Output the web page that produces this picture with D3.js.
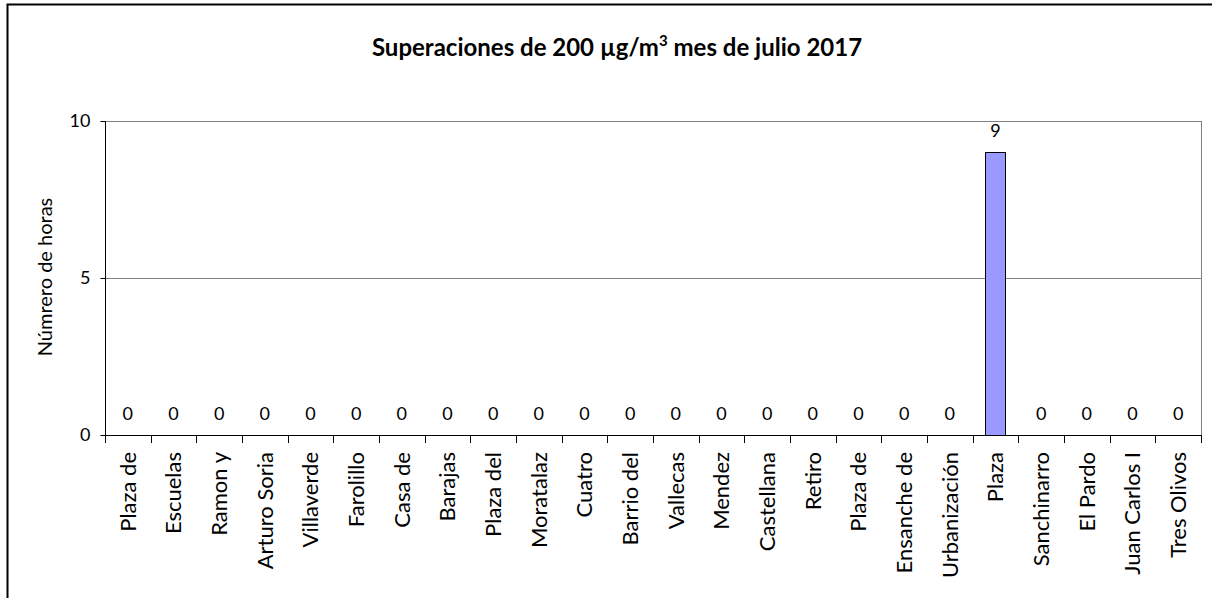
<!DOCTYPE html>
<html>
<head>
<meta charset="utf-8">
<script src="https://cdn.jsdelivr.net/npm/d3@7"></script>
<style>
  body { margin: 0; background: #fff; }
  text { font-family: Lato, "Open Sans", sans-serif; fill: #000; }
</style>
</head>
<body>
<svg id="chart" width="1212" height="598"></svg>
<script>
var stations = ['Plaza de', 'Escuelas', 'Ramon y', 'Arturo Soria', 'Villaverde', 'Farolillo',
    'Casa de', 'Barajas', 'Plaza del', 'Moratalaz', 'Cuatro', 'Barrio del', 'Vallecas',
    'Mendez', 'Castellana', 'Retiro', 'Plaza de', 'Ensanche de', 'Urbanización', 'Plaza',
    'Sanchinarro', 'El Pardo', 'Juan Carlos I', 'Tres Olivos'];
var hours = [0, 0, 0, 0, 0, 0, 0, 0, 0, 0, 0, 0, 0, 0, 0, 0, 0, 0, 0, 9, 0, 0, 0, 0];
var yTicks = [0, 5, 10];

var svg = d3.select('#chart');
var margin = {left: 105, top: 121, right: 1201, bottom: 435};

// outer frame, cut off at the right and bottom like the source
svg.append('rect')
    .attr('x', 7.5).attr('y', 4.5)
    .attr('width', 1220).attr('height', 620)
    .attr('fill', 'none').attr('stroke', '#000').attr('stroke-width', 2);

var idx = stations.map(function (d, i) { return i; });
var x = d3.scaleBand().domain(idx).range([margin.left, margin.right]).paddingInner(0.56).paddingOuter(0.28);
var xb = d3.scaleBand().domain(idx).range([margin.left, margin.right]);
var y = d3.scaleLinear().domain([0, 10]).range([margin.bottom, margin.top]);

// grid lines
svg.append('g').selectAll('line').data(yTicks.filter(function (t) { return t > 0; }))
    .enter().append('line')
    .attr('x1', margin.left).attr('x2', margin.right)
    .attr('y1', function (d) { return Math.round(y(d)) + 0.5; })
    .attr('y2', function (d) { return Math.round(y(d)) + 0.5; })
    .attr('stroke', '#808080');

// right border of plot area
svg.append('line')
    .attr('x1', margin.right + 0.5).attr('x2', margin.right + 0.5)
    .attr('y1', margin.top).attr('y2', margin.bottom)
    .attr('stroke', '#808080');

// bars
svg.append('g').selectAll('rect').data(hours)
    .enter().append('rect')
    .attr('x', function (d, i) { return Math.round(x(i)) + 0.5; })
    .attr('width', Math.round(x.bandwidth()))
    .attr('y', function (d) { return Math.round(y(d)) + 0.5; })
    .attr('height', function (d) { return Math.round(y(0) - y(d)); })
    .attr('fill', '#9999ff')
    .attr('stroke', function (d) { return d > 0 ? '#000' : 'none'; });

// value labels
svg.append('g').selectAll('text').data(hours)
    .enter().append('text')
    .attr('x', function (d, i) { return xb(i) + xb.bandwidth() / 2; })
    .attr('y', function (d) { return y(d) - 15; })
    .attr('text-anchor', 'middle')
    .style('font-size', '18px')
    .text(function (d) { return d; });

// y axis
var yAxis = svg.append('g')
    .attr('transform', 'translate(' + (margin.left + 0.5) + ',0)')
    .call(d3.axisLeft(y).tickValues(yTicks).tickSize(5).tickPadding(10).tickFormat(d3.format('d')));
yAxis.selectAll('path, line').attr('stroke', '#000');
yAxis.select('.domain').attr('d', 'M0,' + margin.top + 'V' + margin.bottom);
yAxis.selectAll('text').style('font-size', '18px').style('font-family', 'Lato, sans-serif');

// x axis with ticks at category boundaries
svg.append('line')
    .attr('x1', margin.left).attr('x2', margin.right + 1)
    .attr('y1', margin.bottom + 0.5).attr('y2', margin.bottom + 0.5)
    .attr('stroke', '#000');
svg.append('g').selectAll('line').data(idx.concat([stations.length]))
    .enter().append('line')
    .attr('x1', function (i) { return Math.round(margin.left + i * xb.step()) + 0.5; })
    .attr('x2', function (i) { return Math.round(margin.left + i * xb.step()) + 0.5; })
    .attr('y1', margin.bottom).attr('y2', margin.bottom + 8)
    .attr('stroke', '#000');

svg.append('g').selectAll('text').data(stations)
    .enter().append('text')
    .attr('transform', function (d, i) {
        return 'translate(' + (xb(i) + xb.bandwidth() / 2) + ',' + (margin.bottom + 17) + ') rotate(-90)';
    })
    .attr('dy', '0.35em')
    .attr('text-anchor', 'end')
    .style('font-size', '22px')
    .text(function (d) { return d; });

// axis title
svg.append('text')
    .attr('transform', 'translate(52,277) rotate(-90)')
    .attr('text-anchor', 'middle')
    .style('font-size', '20px')
    .text('Númrero de horas');

// chart title
var title = svg.append('text')
    .attr('x', 617).attr('y', 56)
    .attr('text-anchor', 'middle')
    .style('font-size', '24px')
    .style('font-weight', 'bold');
title.append('tspan').text('Superaciones de 200 µg/m');
title.append('tspan').attr('dy', -10).style('font-size', '15px').text('3');
title.append('tspan').attr('dy', 10).text(' mes de julio 2017');
</script>
</body>
</html>
